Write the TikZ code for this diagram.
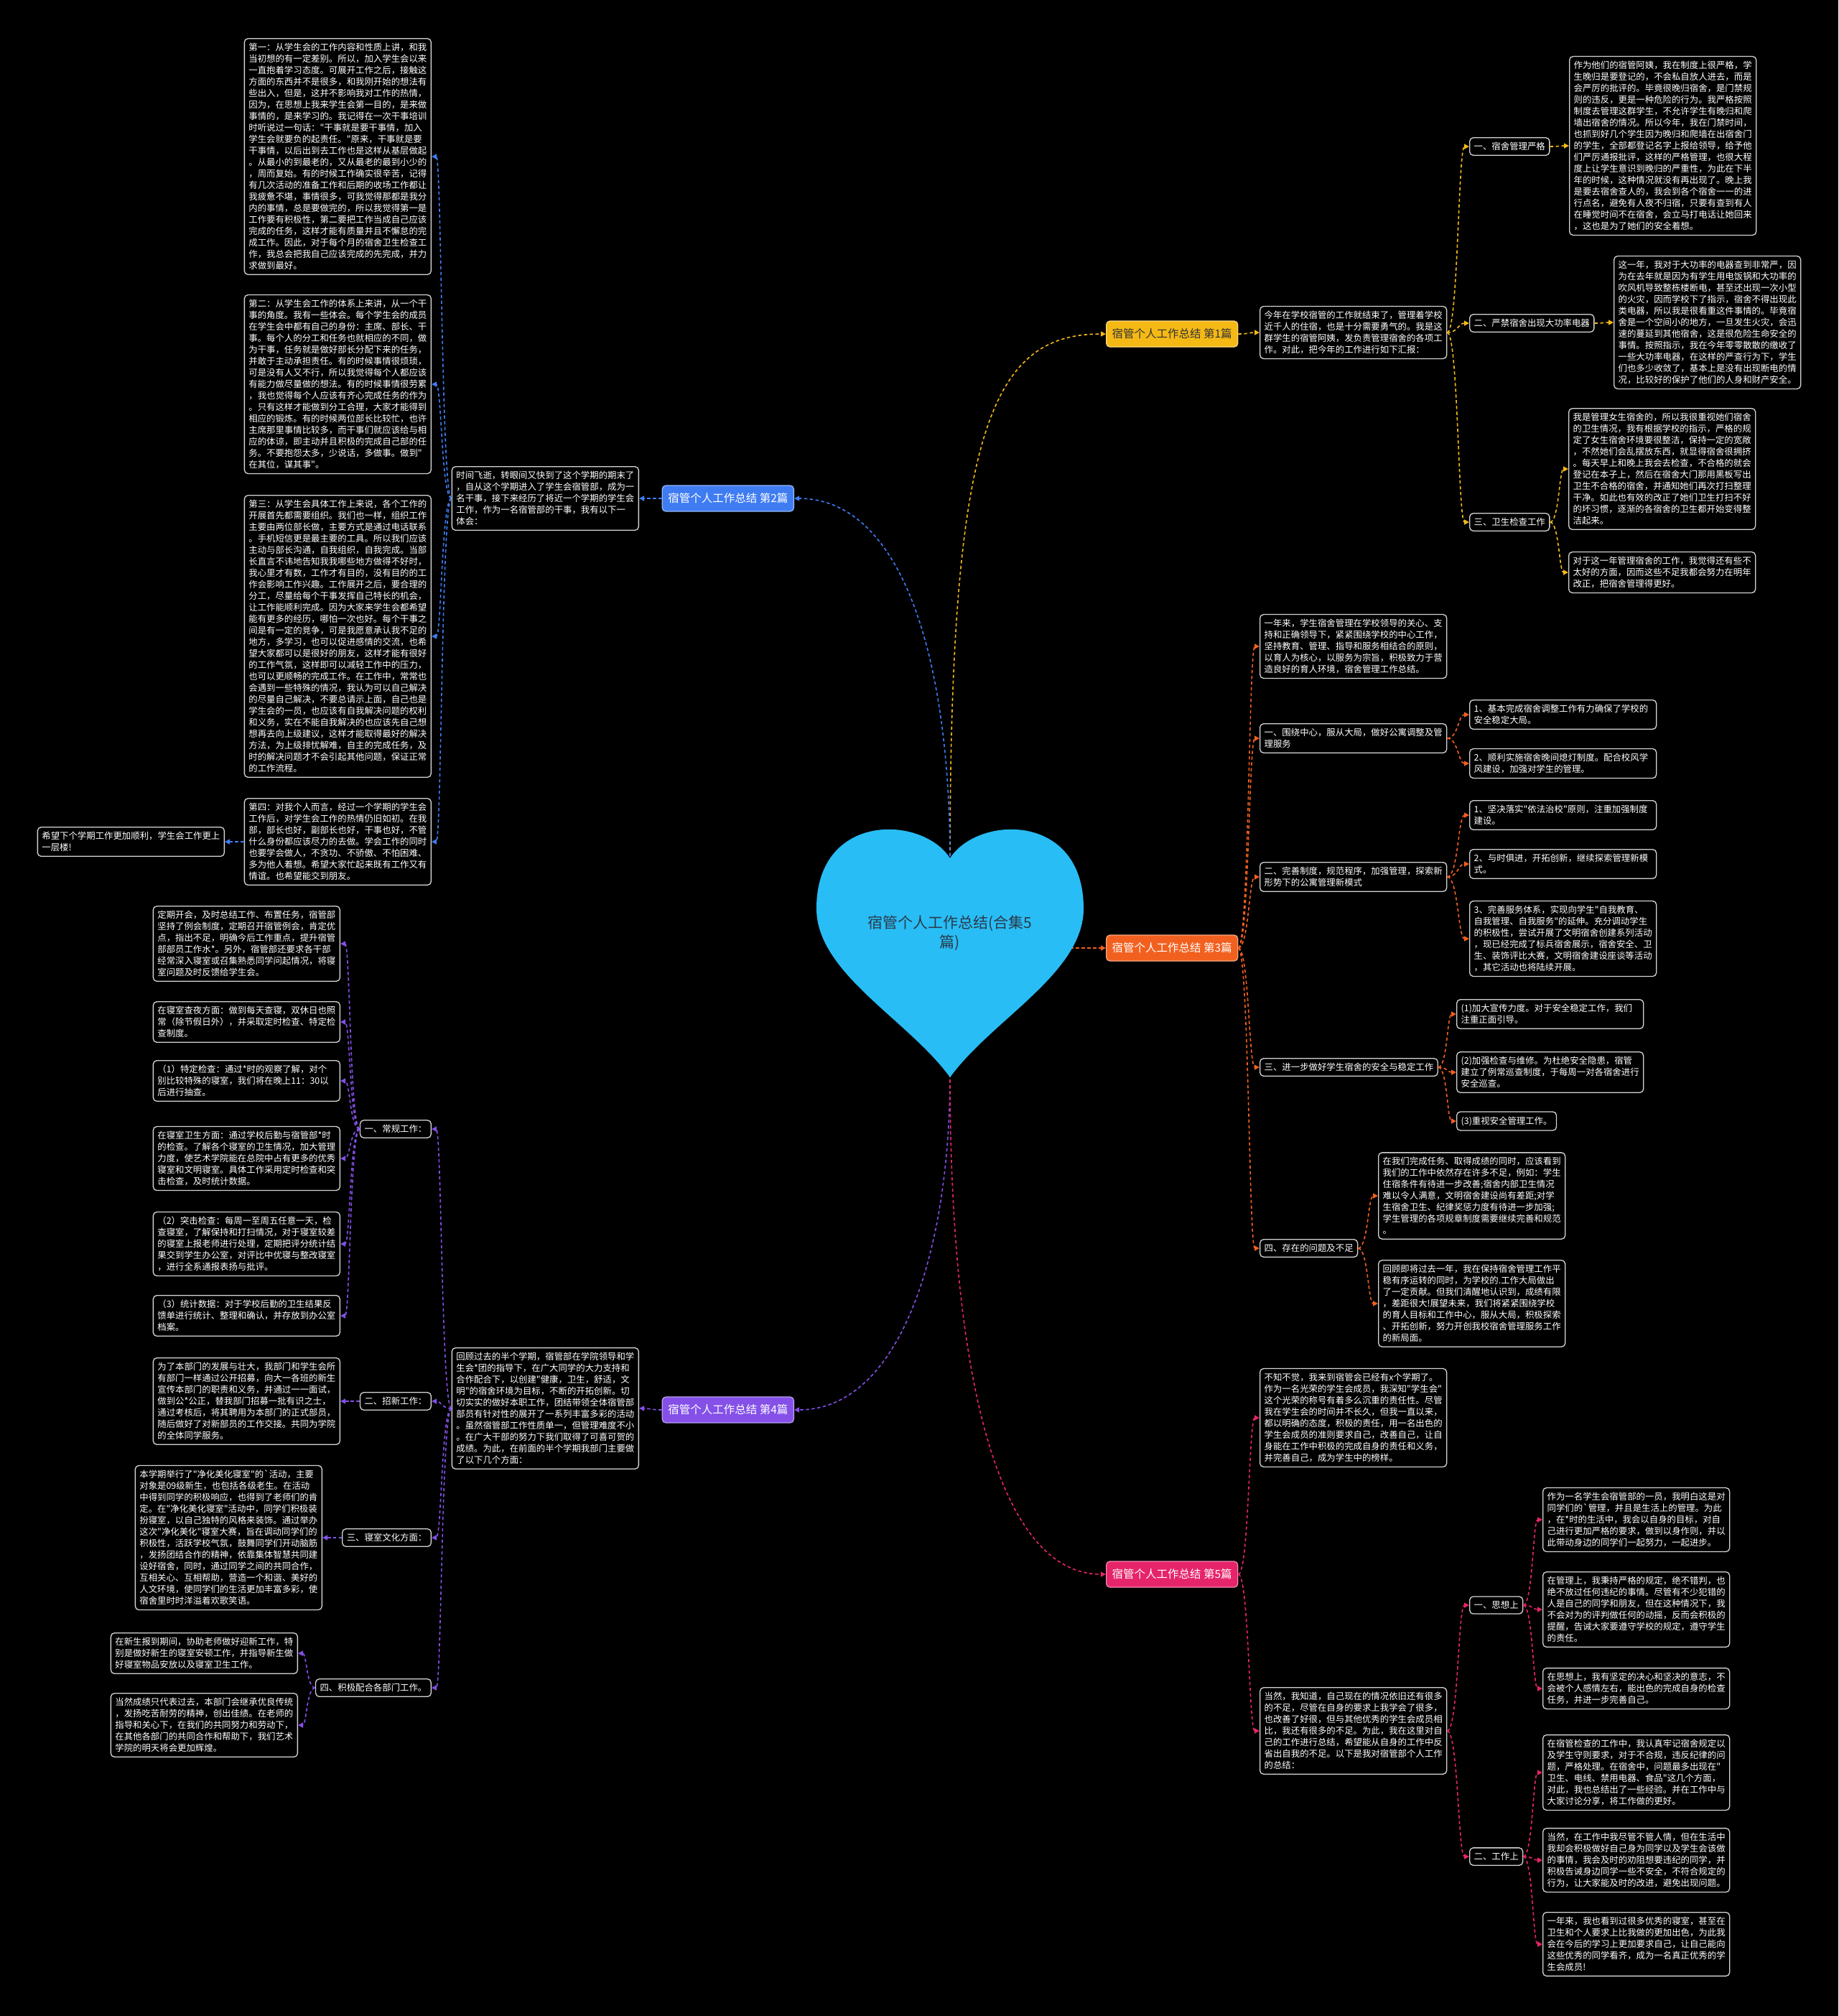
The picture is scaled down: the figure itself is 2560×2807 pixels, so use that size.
\documentclass[tikz,border=0pt]{standalone}
\usepackage{fontspec}
\newfontfamily\cjk{Noto Sans CJK SC}
\usetikzlibrary{arrows.meta,calc}
\definecolor{cy}{HTML}{F5B915}
\definecolor{cb}{HTML}{3F7CF2}
\definecolor{co}{HTML}{F2601F}
\definecolor{cp}{HTML}{8450E8}
\definecolor{cr}{HTML}{E6246A}
\definecolor{bord}{HTML}{D4D4D4}
\definecolor{heart}{HTML}{29BDF5}
\definecolor{htext}{HTML}{2B3A4A}
\tikzset{
  box/.style={draw=bord, line width=1.3pt, rounded corners=5pt, fill=black, text=white,
    font=\cjk\fontsize{12.4}{16}\selectfont, align=left, inner xsep=6pt, inner ysep=6.5pt},
  leaf/.style={box, text width=248pt},
  blab/.style={rounded corners=5pt, fill=#1, draw=#1!55!white, line width=1.3pt,
    font=\cjk\fontsize{15.5}{18}\selectfont, inner xsep=8pt,
    inner ysep=0pt, minimum height=36pt, text=white},
  conn/.style={line width=1.6pt, dash pattern=on 4.5pt off 3.5pt, -{Triangle[length=7pt,width=7pt]}},
}
\newcommand\cn[3]{\draw[conn,#1] let \p1=(#2), \p2=(#3) in (\p1) .. controls ({(\x1+\x2)/2},\y1) and ({(\x1+\x2)/2},\y2) .. (\p2);}
\begin{document}
\begin{tikzpicture}[x=1pt,y=-1pt]
\useasboundingbox (0,0) rectangle (2560,2807);
\fill[black] (0,0) rectangle (2560,2807);

% ---------- branch labels ----------
\node[blab=cy, text=black!80, anchor=west] (B1) at (1540,465) {宿管个人工作总结 第1篇};
\node[blab=cb, anchor=east] (B2) at (1106,694) {宿管个人工作总结 第2篇};
\node[blab=co, anchor=west] (B3) at (1540,1320) {宿管个人工作总结 第3篇};
\node[blab=cp, anchor=east] (B4) at (1106,1963) {宿管个人工作总结 第4篇};
\node[blab=cr, anchor=west] (B5) at (1540,2192) {宿管个人工作总结 第5篇};

% ---------- main connectors ----------
\draw[conn,cy] (1323,1200) .. controls (1323,600) and (1380,465) .. (B1.west);
\draw[conn,cb] (1323,1200) .. controls (1323,900) and (1250,694) .. (B2.east);
\draw[conn,co] (1490,1320) -- (B3.west);
\draw[conn,cp] (1323,1495) .. controls (1323,1750) and (1250,1963) .. (B4.east);
\draw[conn,cr] (1323,1495) .. controls (1323,1950) and (1400,2192) .. (B5.west);

% ---------- heart ----------
\fill[heart] (1323,1195) .. controls (1285,1135) and (1137,1130) .. (1137,1265)
  .. controls (1137,1355) and (1265,1420) .. (1323,1500)
  .. controls (1381,1420) and (1509,1355) .. (1509,1265)
  .. controls (1509,1130) and (1361,1135) .. (1323,1195) -- cycle;
\node[text=htext, font=\cjk\fontsize{21}{27}\selectfont, align=center] (C) at (1323,1299) {宿管个人工作总结(合集5\\篇)};

% ---------- branch 1 ----------
\node[leaf, anchor=west] (i1) at (1754,463) {今年在学校宿管的工作就结束了，管理着学校\\近千人的住宿，也是十分需要勇气的。我是这\\群学生的宿管阿姨，发负责管理宿舍的各项工\\作。对此，把今年的工作进行如下汇报：};
\node[box, anchor=west] (l11) at (2046,204) {一、宿舍管理严格};
\node[box, anchor=west] (l12) at (2046,450) {二、严禁宿舍出现大功率电器};
\node[box, anchor=west] (l13) at (2046,727) {三、卫生检查工作};
\node[leaf, anchor=west] (f11) at (2185,203) {作为他们的宿管阿姨，我在制度上很严格，学\\生晚归是要登记的，不会私自放人进去，而是\\会严厉的批评的。毕竟很晚归宿舍，是门禁规\\则的违反，更是一种危险的行为。我严格按照\\制度去管理这群学生，不允许学生有晚归和爬\\墙出宿舍的情况。所以今年，我在门禁时间，\\也抓到好几个学生因为晚归和爬墙在出宿舍门\\的学生，全部都登记名字上报给领导，给予他\\们严厉通报批评，这样的严格管理，也很大程\\度上让学生意识到晚归的严重性，为此在下半\\年的时候，这种情况就没有再出现了。晚上我\\是要去宿舍查人的，我会到各个宿舍一一的进\\行点名，避免有人夜不归宿，只要有查到有人\\在睡觉时间不在宿舍，会立马打电话让她回来\\，这也是为了她们的安全着想。};
\node[leaf, anchor=west] (f12) at (2247,449) {这一年，我对于大功率的电器查到非常严，因\\为在去年就是因为有学生用电饭锅和大功率的\\吹风机导致整栋楼断电，甚至还出现一次小型\\的火灾，因而学校下了指示，宿舍不得出现此\\类电器，所以我是很看重这件事情的。毕竟宿\\舍是一个空间小的地方，一旦发生火灾，会迅\\速的蔓延到其他宿舍，这是很危险生命安全的\\事情。按照指示，我在今年零零散散的缴收了\\一些大功率电器，在这样的严查行为下，学生\\们也多少收敛了，基本上是没有出现断电的情\\况，比较好的保护了他们的人身和财产安全。};
\node[leaf, anchor=west] (f13) at (2184,653) {我是管理女生宿舍的，所以我很重视她们宿舍\\的卫生情况，我有根据学校的指示，严格的规\\定了女生宿舍环境要很整洁，保持一定的宽敞\\，不然她们会乱摆放东西，就显得宿舍很拥挤\\。每天早上和晚上我会去检查，不合格的就会\\登记在本子上，然后在宿舍大门那用黑板写出\\卫生不合格的宿舍，并通知她们再次打扫整理\\干净。如此也有效的改正了她们卫生打扫不好\\的坏习惯，逐渐的各宿舍的卫生都开始变得整\\洁起来。};
\node[leaf, anchor=west] (f14) at (2184,797) {对于这一年管理宿舍的工作，我觉得还有些不\\太好的方面，因而这些不足我都会努力在明年\\改正，把宿舍管理得更好。};
\cn{cy}{B1.east}{i1.west}
\cn{cy}{i1.east}{l11.west}
\cn{cy}{i1.east}{l12.west}
\cn{cy}{i1.east}{l13.west}
\cn{cy}{l11.east}{f11.west}
\cn{cy}{l12.east}{f12.west}
\cn{cy}{l13.east}{f13.west}
\cn{cy}{l13.east}{f14.west}

% ---------- branch 2 ----------
\node[leaf, anchor=east] (i2) at (890,694) {时间飞逝，转眼间又快到了这个学期的期末了\\，自从这个学期进入了学生会宿管部，成为一\\名干事，接下来经历了将近一个学期的学生会\\工作，作为一名宿管部的干事，我有以下一\\体会：};
\node[leaf, anchor=east] (b21) at (601,218) {第一：从学生会的工作内容和性质上讲，和我\\当初想的有一定差别。所以，加入学生会以来\\一直抱着学习态度。可展开工作之后，接触这\\方面的东西并不是很多，和我刚开始的想法有\\些出入，但是，这并不影响我对工作的热情，\\因为，在思想上我来学生会第一目的，是来做\\事情的，是来学习的。我记得在一次干事培训\\时听说过一句话："干事就是要干事情，加入\\学生会就要负的起责任。"原来，干事就是要\\干事情，以后出到去工作也是这样从基层做起\\。从最小的到最老的，又从最老的最到小少的\\，周而复始。有的时候工作确实很辛苦，记得\\有几次活动的准备工作和后期的收场工作都让\\我疲惫不堪，事情很多，可我觉得那都是我分\\内的事情，总是要做完的，所以我觉得第一是\\工作要有积极性，第二要把工作当成自己应该\\完成的任务，这样才能有质量并且不懈怠的完\\成工作。因此，对于每个月的宿舍卫生检查工\\作，我总会把我自己应该完成的先完成，并力\\求做到最好。};
\node[leaf, anchor=east] (b22) at (601,535) {第二：从学生会工作的体系上来讲，从一个干\\事的角度。我有一些体会。每个学生会的成员\\在学生会中都有自己的身份：主席、部长、干\\事。每个人的分工和任务也就相应的不同，做\\为干事，任务就是做好部长分配下来的任务，\\并敢于主动承担责任。有的时候事情很烦琐，\\可是没有人又不行，所以我觉得每个人都应该\\有能力做尽量做的想法。有的时候事情很劳累\\，我也觉得每个人应该有齐心完成任务的作为\\。只有这样才能做到分工合理，大家才能得到\\相应的锻炼。有的时候两位部长比较忙，也许\\主席那里事情比较多，而干事们就应该给与相\\应的体谅，即主动并且积极的完成自己部的任\\务。不要抱怨太多，少说话，多做事。做到"\\在其位，谋其事"。};
\node[leaf, anchor=east] (b23) at (601,886) {第三：从学生会具体工作上来说，各个工作的\\开展首先都需要组织。我们也一样，组织工作\\主要由两位部长做，主要方式是通过电话联系\\。手机短信更是最主要的工具。所以我们应该\\主动与部长沟通，自我组织，自我完成。当部\\长直言不讳地告知我我哪些地方做得不好时，\\我心里才有数，工作才有目的，没有目的的工\\作会影响工作兴趣。工作展开之后，要合理的\\分工，尽量给每个干事发挥自己特长的机会，\\让工作能顺利完成。因为大家来学生会都希望\\能有更多的经历，哪怕一次也好。每个干事之\\间是有一定的竞争，可是我愿意承认我不足的\\地方，多学习，也可以促进感情的交流，也希\\望大家都可以是很好的朋友，这样才能有很好\\的工作气氛，这样即可以减轻工作中的压力，\\也可以更顺畅的完成工作。在工作中，常常也\\会遇到一些特殊的情况，我认为可以自己解决\\的尽量自己解决，不要总请示上面，自己也是\\学生会的一员，也应该有自我解决问题的权利\\和义务，实在不能自我解决的也应该先自己想\\想再去向上级建议，这样才能取得最好的解决\\方法，为上级排忧解难，自主的完成任务，及\\时的解决问题才不会引起其他问题，保证正常\\的工作流程。};
\node[leaf, anchor=east] (b24) at (601,1172) {第四：对我个人而言，经过一个学期的学生会\\工作后，对学生会工作的热情仍旧如初。在我\\部，部长也好，副部长也好，干事也好，不管\\什么身份都应该尽力的去做。学会工作的同时\\也要学会做人，不贪功、不骄傲、不怕困难、\\多为他人着想。希望大家忙起来既有工作又有\\情谊。也希望能交到朋友。};
\node[leaf, anchor=east] (b25) at (313,1172) {希望下个学期工作更加顺利，学生会工作更上\\一层楼!};
\cn{cb}{B2.west}{i2.east}
\cn{cb}{i2.west}{b21.east}
\cn{cb}{i2.west}{b22.east}
\cn{cb}{i2.west}{b23.east}
\cn{cb}{i2.west}{b24.east}
\cn{cb}{b24.west}{b25.east}

% ---------- branch 3 ----------
\node[leaf, anchor=west] (i3) at (1754,900) {一年来，学生宿舍管理在学校领导的关心、支\\持和正确领导下，紧紧围绕学校的中心工作，\\坚持教育、管理、指导和服务相结合的原则，\\以育人为核心，以服务为宗旨，积极致力于营\\造良好的育人环境，宿舍管理工作总结。};
\node[leaf, anchor=west] (l31) at (1754,1028) {一、围绕中心，服从大局，做好公寓调整及管\\理服务};
\node[leaf, anchor=west] (l32) at (1754,1221) {二、完善制度，规范程序，加强管理，探索新\\形势下的公寓管理新模式};
\node[box, anchor=west] (l33) at (1754,1486) {三、进一步做好学生宿舍的安全与稳定工作};
\node[box, anchor=west] (l34) at (1754,1738) {四、存在的问题及不足};
\node[leaf, anchor=west] (f311) at (2046,995) {1、基本完成宿舍调整工作有力确保了学校的\\安全稳定大局。};
\node[leaf, anchor=west] (f312) at (2046,1063) {2、顺利实施宿舍晚间熄灯制度。配合校风学\\风建设，加强对学生的管理。};
\node[leaf, anchor=west] (f321) at (2046,1135) {1、坚决落实"依法治校"原则，注重加强制度\\建设。};
\node[leaf, anchor=west] (f322) at (2046,1203) {2、与时俱进，开拓创新，继续探索管理新模\\式。};
\node[leaf, anchor=west] (f323) at (2046,1307) {3、完善服务体系，实现向学生"自我教育、\\自我管理、自我服务"的延伸。充分调动学生\\的积极性，尝试开展了文明宿舍创建系列活动\\，现已经完成了标兵宿舍展示，宿舍安全、卫\\生、装饰评比大赛，文明宿舍建设座谈等活动\\，其它活动也将陆续开展。};
\node[leaf, anchor=west] (f331) at (2028,1412) {(1)加大宣传力度。对于安全稳定工作，我们\\注重正面引导。};
\node[leaf, anchor=west] (f332) at (2028,1493) {(2)加强检查与维修。为杜绝安全隐患，宿管\\建立了例常巡查制度，于每周一对各宿舍进行\\安全巡查。};
\node[box, anchor=west] (f333) at (2028,1561) {(3)重视安全管理工作。};
\node[leaf, anchor=west] (f341) at (1919,1665) {在我们完成任务、取得成绩的同时，应该看到\\我们的工作中依然存在许多不足，例如：学生\\住宿条件有待进一步改善;宿舍内部卫生情况\\难以令人满意，文明宿舍建设尚有差距;对学\\生宿舍卫生、纪律奖惩力度有待进一步加强;\\学生管理的各项规章制度需要继续完善和规范\\。};
\node[leaf, anchor=west] (f342) at (1919,1815) {回顾即将过去一年，我在保持宿舍管理工作平\\稳有序运转的同时，为学校的.工作大局做出\\了一定贡献。但我们清醒地认识到，成绩有限\\，差距很大!展望未来，我们将紧紧围绕学校\\的育人目标和工作中心，服从大局，积极探索\\、开拓创新，努力开创我校宿舍管理服务工作\\的新局面。};
\cn{co}{B3.east}{i3.west}
\cn{co}{B3.east}{l31.west}
\cn{co}{B3.east}{l32.west}
\cn{co}{B3.east}{l33.west}
\cn{co}{B3.east}{l34.west}
\cn{co}{l31.east}{f311.west}
\cn{co}{l31.east}{f312.west}
\cn{co}{l32.east}{f321.west}
\cn{co}{l32.east}{f322.west}
\cn{co}{l32.east}{f323.west}
\cn{co}{l33.east}{f331.west}
\cn{co}{l33.east}{f332.west}
\cn{co}{l33.east}{f333.west}
\cn{co}{l34.east}{f341.west}
\cn{co}{l34.east}{f342.west}

% ---------- branch 4 ----------
\node[leaf, anchor=east] (i4) at (890,1961) {回顾过去的半个学期，宿管部在学院领导和学\\生会*团的指导下，在广大同学的大力支持和\\合作配合下，以创建"健康，卫生，舒适，文\\明"的宿舍环境为目标，不断的开拓创新。切\\切实实的做好本职工作，团结带领全体宿管部\\部员有针对性的展开了一系列丰富多彩的活动\\。虽然宿管部工作性质单一，但管理难度不小\\。在广大干部的努力下我们取得了可喜可贺的\\成绩。为此，在前面的半个学期我部门主要做\\了以下几个方面：};
\node[box, anchor=east] (l41) at (601,1572) {一、常规工作：};
\node[box, anchor=east] (l42) at (601,1951) {二、招新工作：};
\node[box, anchor=east] (l43) at (601,2141) {三、寝室文化方面：};
\node[box, anchor=east] (l44) at (601,2350) {四、积极配合各部门工作。};
\node[leaf, anchor=east] (f411) at (474,1314) {定期开会，及时总结工作、布置任务，宿管部\\坚持了例会制度，定期召开宿管例会，肯定优\\点，指出不足，明确今后工作重点，提升宿管\\部部员工作水*。另外，宿管部还要求各干部\\经常深入寝室或召集熟悉同学问起情况，将寝\\室问题及时反馈给学生会。};
\node[leaf, anchor=east] (f412) at (474,1423) {在寝室查夜方面：做到每天查寝，双休日也照\\常（除节假日外），并采取定时检查、特定检\\查制度。};
\node[leaf, anchor=east] (f413) at (474,1505) {（1）特定检查：通过*时的观察了解，对个\\别比较特殊的寝室，我们将在晚上11：30以\\后进行抽查。};
\node[leaf, anchor=east] (f414) at (474,1613) {在寝室卫生方面：通过学校后勤与宿管部*时\\的检查。了解各个寝室的卫生情况，加大管理\\力度，使艺术学院能在总院中占有更多的优秀\\寝室和文明寝室。具体工作采用定时检查和突\\击检查，及时统计数据。};
\node[leaf, anchor=east] (f415) at (474,1732) {（2）突击检查：每周一至周五任意一天，检\\查寝室，了解保持和打扫情况，对于寝室较差\\的寝室上报老师进行处理，定期把评分统计结\\果交到学生办公室，对评比中优寝与整改寝室\\，进行全系通报表扬与批评。};
\node[leaf, anchor=east] (f416) at (474,1832) {（3）统计数据：对于学校后勤的卫生结果反\\馈单进行统计、整理和确认，并存放到办公室\\档案。};
\node[leaf, anchor=east] (f421) at (474,1951) {为了本部门的发展与壮大，我部门和学生会所\\有部门一样通过公开招募，向大一各班的新生\\宣传本部门的职责和义务，并通过一一面试，\\做到公*公正，替我部门招募一批有识之士，\\通过考核后，将其聘用为本部门的正式部员，\\随后做好了对新部员的工作交接。共同为学院\\的全体同学服务。};
\node[leaf, anchor=east] (f431) at (449,2141) {本学期举行了"净化美化寝室"的`活动，主要\\对象是09级新生，也包括各级老生。在活动\\中得到同学的积极响应，也得到了老师们的肯\\定。在"净化美化寝室"活动中，同学们积极装\\扮寝室，以自己独特的风格来装饰。通过举办\\这次"净化美化"寝室大赛，旨在调动同学们的\\积极性，活跃学校气氛，鼓舞同学们开动脑筋\\，发扬团结合作的精神，依靠集体智慧共同建\\设好宿舍，同时，通过同学之间的共同合作，\\互相关心、互相帮助，营造一个和谐、美好的\\人文环境，使同学们的生活更加丰富多彩，使\\宿舍里时时洋溢着欢歌笑语。};
\node[leaf, anchor=east] (f441) at (415,2302) {在新生报到期间，协助老师做好迎新工作，特\\别是做好新生的寝室安顿工作，并指导新生做\\好寝室物品安放以及寝室卫生工作。};
\node[leaf, anchor=east] (f442) at (415,2402) {当然成绩只代表过去，本部门会继承优良传统\\，发扬吃苦耐劳的精神，创出佳绩。在老师的\\指导和关心下，在我们的共同努力和劳动下，\\在其他各部门的共同合作和帮助下，我们艺术\\学院的明天将会更加辉煌。};
\cn{cp}{B4.west}{i4.east}
\cn{cp}{i4.west}{l41.east}
\cn{cp}{i4.west}{l42.east}
\cn{cp}{i4.west}{l43.east}
\cn{cp}{i4.west}{l44.east}
\cn{cp}{l41.west}{f411.east}
\cn{cp}{l41.west}{f412.east}
\cn{cp}{l41.west}{f413.east}
\cn{cp}{l41.west}{f414.east}
\cn{cp}{l41.west}{f415.east}
\cn{cp}{l41.west}{f416.east}
\cn{cp}{l42.west}{f421.east}
\cn{cp}{l43.west}{f431.east}
\cn{cp}{l44.west}{f441.east}
\cn{cp}{l44.west}{f442.east}

% ---------- branch 5 ----------
\node[leaf, anchor=west] (i5a) at (1754,1974) {不知不觉，我来到宿管会已经有x个学期了。\\作为一名光荣的学生会成员，我深知"学生会"\\这个光荣的称号有着多么沉重的责任性。尽管\\我在学生会的时间并不长久，但我一直以来，\\都以明确的态度，积极的责任，用一名出色的\\学生会成员的准则要求自己，改善自己，让自\\身能在工作中积极的完成自身的责任和义务，\\并完善自己，成为学生中的榜样。};
\node[leaf, anchor=west] (i5b) at (1754,2410) {当然，我知道，自己现在的情况依旧还有很多\\的不足，尽管在自身的要求上我学会了很多，\\也改善了好很，但与其他优秀的学生会成员相\\比，我还有很多的不足。为此，我在这里对自\\己的工作进行总结，希望能从自身的工作中反\\省出自我的不足。以下是我对宿管部个人工作\\的总结：};
\node[box, anchor=west] (l51) at (2046,2235) {一、思想上};
\node[box, anchor=west] (l52) at (2046,2585) {二、工作上};
\node[leaf, anchor=west] (f511) at (2148,2116) {作为一名学生会宿管部的一员，我明白这是对\\同学们的`管理，并且是生活上的管理。为此\\，在*时的生活中，我会以自身的目标，对自\\己进行更加严格的要求，做到以身作则，并以\\此带动身边的同学们一起努力，一起进步。};
\node[leaf, anchor=west] (f512) at (2148,2241) {在管理上，我秉持严格的规定，绝不错判，也\\绝不放过任何违纪的事情。尽管有不少犯错的\\人是自己的同学和朋友，但在这种情况下，我\\不会对为的评判做任何的动摇，反而会积极的\\提醒，告诫大家要遵守学校的规定，遵守学生\\的责任。};
\node[leaf, anchor=west] (f513) at (2148,2351) {在思想上，我有坚定的决心和坚决的意志，不\\会被个人感情左右，能出色的完成自身的检查\\任务，并进一步完善自己。};
\node[leaf, anchor=west] (f521) at (2148,2468) {在宿管检查的工作中，我认真牢记宿舍规定以\\及学生守则要求，对于不合规，违反纪律的问\\题，严格处理。在宿舍中，问题最多出现在"\\卫生、电线、禁用电器、食品"这几个方面，\\对此，我也总结出了一些经验。并在工作中与\\大家讨论分享，将工作做的更好。};
\node[leaf, anchor=west] (f522) at (2148,2590) {当然，在工作中我尽管不管人情，但在生活中\\我却会积极做好自己身为同学以及学生会该做\\的事情，我会及时的劝阻想要违纪的同学，并\\积极告诫身边同学一些不安全，不符合规定的\\行为，让大家能及时的改进，避免出现问题。};
\node[leaf, anchor=west] (f523) at (2148,2707) {一年来，我也看到过很多优秀的寝室，甚至在\\卫生和个人要求上比我做的更加出色，为此我\\会在今后的学习上更加要求自己，让自己能向\\这些优秀的同学看齐，成为一名真正优秀的学\\生会成员!};
\cn{cr}{B5.east}{i5a.west}
\cn{cr}{B5.east}{i5b.west}
\cn{cr}{i5b.east}{l51.west}
\cn{cr}{i5b.east}{l52.west}
\cn{cr}{l51.east}{f511.west}
\cn{cr}{l51.east}{f512.west}
\cn{cr}{l51.east}{f513.west}
\cn{cr}{l52.east}{f521.west}
\cn{cr}{l52.east}{f522.west}
\cn{cr}{l52.east}{f523.west}
\end{tikzpicture}
\end{document}
